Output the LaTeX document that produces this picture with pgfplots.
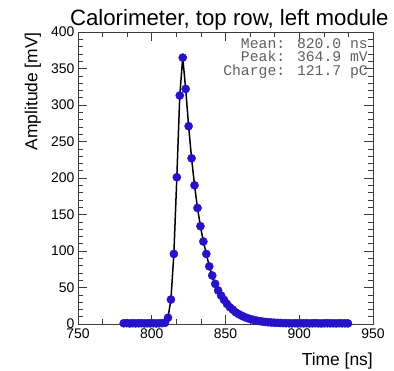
\documentclass[border=0pt]{standalone}
\usepackage{pgfplots}
\pgfplotsset{compat=1.18}
\usepackage{pgfplotstable}
\usepackage{fontspec}
\setmainfont{Liberation Sans}
\newfontfamily\statfont{Liberation Mono}
\definecolor{mblue}{RGB}{38,18,200}
\definecolor{statgray}{RGB}{95,95,95}
\definecolor{axgray}{RGB}{60,60,60}

\pgfplotstableread{
t v
781 1.0
783 1.2
785 0.8
787 1.1
789 0.9
791 1.0
793 1.1
795 0.8
797 1.0
799 0.9
801 1.1
803 0.8
805 1.0
807 1.2
809 1.6
811 8.5
813 33.5
815 96
817 201
819 313
821 364.9
823 322
825 271
827 227
829 190
831 159
833 134
835 113
837 96
839 79
841 66.5
843 55
845 46
847 39
849 33
851 27.5
853 23
855 19.5
857 16
859 13.5
861 11.3
863 9.5
865 8
867 6.7
869 5.6
871 4.7
873 4.0
875 3.3
877 2.8
879 2.4
881 2.1
883 1.8
885 1.6
887 1.4
889 1.2
891 1.1
893 1.0
895 0.9
897 1.1
899 0.8
901 1.0
903 0.9
905 1.1
907 0.8
909 1.0
911 1.1
913 0.9
915 0.8
917 1.0
919 1.1
921 0.9
923 1.0
925 0.8
927 1.1
929 0.9
931 1.0
933 0.8
}\pulse

\begin{document}
\begin{tikzpicture}
\path[use as bounding box] (-78bp,-47bp) rectangle (316bp,324bp);
\begin{axis}[
  at={(0,0)}, anchor=south west,
  width=295bp, height=292bp, scale only axis,
  xmin=750, xmax=950, ymin=0, ymax=400,
  clip=false,
  xtick={750,800,...,950}, ytick={0,50,...,400},
  minor x tick num=2, minor y tick num=4,
  tick align=inside, xtick pos=both, ytick pos=both,
  major tick length=9bp, minor tick length=5bp,
  tick style={axgray, line width=0.6bp},
  axis line style={axgray, line width=0.8bp},
  ticklabel style={font=\fontsize{14}{14}\selectfont},
  xticklabel style={yshift=-1.5bp},
  /pgf/number format/assume math mode=true,
  scaled ticks=false,
]
\addplot[only marks, mark=*, mark size=4.1bp, color=mblue, mark options={draw=mblue, fill=mblue}] table[x=t, y=v] {\pulse};
\addplot[black, line width=1.5bp] table[x=t, y=v] {\pulse};

\node[anchor=base, font=\fontsize{22.3}{23}\selectfont, inner sep=0pt] at ([yshift=7bp]rel axis cs:0.513,1) {Calorimeter, top row, left module};
\node[anchor=base east, font=\fontsize{17.5}{18}\selectfont, inner sep=0pt] at ([yshift=-41bp]rel axis cs:1,0) {Time [ns]};
\node[anchor=base east, rotate=90, font=\fontsize{17.5}{18}\selectfont, inner sep=0pt] at ([xshift=-40.5bp]rel axis cs:0,1) {Amplitude [mV]};

\node[anchor=base east, inner sep=0pt, statgray, font=\statfont\fontsize{14.8}{15}\selectfont] at ([xshift=-5bp, yshift=-16bp]rel axis cs:1,1) {Mean: 820.0 ns};
\node[anchor=base east, inner sep=0pt, statgray, font=\statfont\fontsize{14.8}{15}\selectfont] at ([xshift=-5bp, yshift=-29.5bp]rel axis cs:1,1) {Peak: 364.9 mV};
\node[anchor=base east, inner sep=0pt, statgray, font=\statfont\fontsize{14.8}{15}\selectfont] at ([xshift=-5bp, yshift=-43bp]rel axis cs:1,1) {Charge: 121.7 pC};
\end{axis}
\end{tikzpicture}
\end{document}
